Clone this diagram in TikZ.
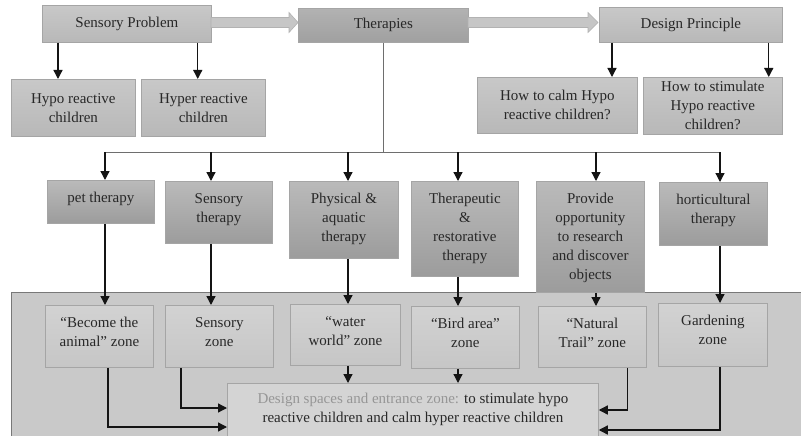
\documentclass[tikz,border=0pt]{standalone}
\usepackage{fontspec}
\setmainfont{Liberation Serif}
\usetikzlibrary{arrows.meta}

\tikzset{every picture/.style={line width=0.75pt}}
\tikzset{
	box/.style={anchor=north west, inner sep=0pt, draw={rgb, 255:red, 165; green, 165; blue, 165 }, text={rgb, 255:red, 40; green, 40; blue, 40 }, font=\fontsize{15}{19}\selectfont},
	topbox/.style={box, align=center, top color={rgb, 255:red, 200; green, 200; blue, 200 }, bottom color={rgb, 255:red, 184; green, 184; blue, 184 }},
	thbox/.style={box, top color={rgb, 255:red, 186; green, 186; blue, 186 }, bottom color={rgb, 255:red, 156; green, 156; blue, 156 }},
	zonebox/.style={box, top color={rgb, 255:red, 210; green, 210; blue, 210 }, bottom color={rgb, 255:red, 198; green, 198; blue, 198 }},
	arr/.style={-{Triangle[length=9pt,width=9pt]}, line width=1.3pt, color={rgb, 255:red, 20; green, 20; blue, 20 }},
	bus/.style={line width=0.9pt, color={rgb, 255:red, 110; green, 110; blue, 110 }},
	bigarrow/.style={fill={rgb, 255:red, 198; green, 198; blue, 198 }, draw={rgb, 255:red, 178; green, 178; blue, 178 }, line width=0.6pt}
}
% text set from the top of a box
\newcommand{\toptxt}[3]{\parbox[c][#2pt][t]{#1pt}{\centering\rule{0pt}{22pt}#3}}

\begin{document}
\begin{tikzpicture}[x=1pt,y=-1pt]
	\clip (0,0) rectangle (801,436);
	\fill[white] (0,0) rectangle (801,436);
	
	%Background of the zones
	\draw [fill={rgb, 255:red, 201; green, 201; blue, 201 }, draw={rgb, 255:red, 120; green, 120; blue, 120 }] (11,292) rectangle (806,442);
	
	% Top row
	\node[topbox, minimum width=169pt, minimum height=37pt] (sprob) at (42,5) {Sensory Problem};
	\node[topbox, top color={rgb, 255:red, 178; green, 178; blue, 178 }, bottom color={rgb, 255:red, 160; green, 160; blue, 160 }, minimum width=170pt, minimum height=34pt] (ther) at (298,8) {Therapies};
	\node[topbox, minimum width=183pt, minimum height=35pt] (dprin) at (599,7) {Design Principle};
	
	\node[topbox, minimum width=124pt, minimum height=57pt] (hypo) at (11,79) {Hypo reactive\\children};
	\node[topbox, minimum width=124pt, minimum height=57pt] (hyper) at (141,79) {Hyper reactive\\children};
	\node[topbox, minimum width=160pt, minimum height=56pt] (calm) at (477,77) {How to calm Hypo\\reactive children?};
	\node[topbox, minimum width=139pt, minimum height=57pt] (stim) at (643,77) {How to stimulate\\Hypo reactive\\children?};
	
	% Therapies
	\node[thbox] (pet) at (47,180) {\toptxt{107}{43}{pet therapy}};
	\node[thbox] (sens) at (165,181) {\toptxt{107}{62}{Sensory\\therapy}};
	\node[thbox] (phys) at (289,181) {\toptxt{109}{77}{Physical \&\\aquatic\\therapy}};
	\node[thbox] (rest) at (411,181) {\toptxt{107}{95}{Therapeutic\\\&\\restorative\\therapy}};
	\node[thbox] (prov) at (536,181) {\toptxt{108}{111}{Provide\\opportunity\\to research\\and discover\\objects}};
	\node[thbox] (hort) at (659,182) {\toptxt{108}{63}{horticultural\\therapy}};
	
	% Zones
	\node[zonebox] (zanim) at (45,305) {\toptxt{108}{62}{“Become the\\animal” zone}};
	\node[zonebox] (zsens) at (165,305) {\toptxt{108}{62}{Sensory\\zone}};
	\node[zonebox] (zwater) at (290,304) {\toptxt{110}{61}{“water\\world” zone}};
	\node[zonebox] (zbird) at (411,306) {\toptxt{108}{62}{“Bird area”\\zone}};
	\node[zonebox] (ztrail) at (538,306) {\toptxt{108}{61}{“Natural\\Trail” zone}};
	\node[zonebox] (zgard) at (658,303) {\toptxt{109}{63}{Gardening\\zone}};
	
	\node[box, fill={rgb, 255:red, 212; green, 212; blue, 212 }] (dspace) at (227,383) {\parbox[c][60pt][t]{371pt}{\centering\rule{0pt}{20pt}{\color[RGB]{150,150,150}Design spaces and entrance zone:} to stimulate hypo\\reactive children and calm hyper reactive children}};
	
	%Big arrows
	\draw [bigarrow] (211,17.5) -- (289,17.5) -- (289,12.5) -- (298,22.5) -- (289,32.5) -- (289,27.5) -- (211,27.5) -- cycle ;
	\draw [bigarrow] (468,17.5) -- (588,17.5) -- (588,12.5) -- (598,22.5) -- (588,32.5) -- (588,27.5) -- (468,27.5) -- cycle ;
	
	%Columns
	\coordinate (c1) at (105,0);
	\coordinate (c2) at (211,0);
	\coordinate (c3) at (348,0);
	\coordinate (c4) at (458,0);
	\coordinate (c5) at (596,0);
	\coordinate (c6) at (720,0);
	\coordinate (busl) at (105,152);
	\coordinate (busr) at (720,152);
	
	%Straight Lines
	\draw [arr] ([xshift=16pt]sprob.south west) -- ([xshift=16pt]sprob.south west |- hypo.north);
	\draw [arr] ([xshift=-14pt]sprob.south east) -- ([xshift=-14pt]sprob.south east |- hyper.north);
	\draw [arr] ([xshift=13pt]dprin.south west) -- ([xshift=13pt]dprin.south west |- calm.north);
	\draw [arr] ([xshift=-14pt]dprin.south east) -- ([xshift=-14pt]dprin.south east |- stim.north);
	
	\draw [bus] (ther.south) -- (ther.south |- busl);
	\draw [bus] (busl) -- (busr);
	
	\draw [arr] (c1 |- busl) -- (c1 |- pet.north);
	\draw [arr] (c2 |- busl) -- (c2 |- sens.north);
	\draw [arr] (c3 |- busl) -- (c3 |- phys.north);
	\draw [arr] (c4 |- busl) -- (c4 |- rest.north);
	\draw [arr] (c5 |- busl) -- (c5 |- prov.north);
	\draw [arr] (c6 |- busl) -- (c6 |- hort.north);
	
	\draw [arr] (c1 |- pet.south) -- (c1 |- zanim.north);
	\draw [arr] (c2 |- sens.south) -- (c2 |- zsens.north);
	\draw [arr] (c3 |- phys.south) -- (c3 |- zwater.north);
	\draw [arr] (c4 |- rest.south) -- (c4 |- zbird.north);
	\draw [arr] (c5 |- prov.south) -- (c5 |- ztrail.north);
	\draw [arr] (c6 |- hort.south) -- (c6 |- zgard.north);
	
	\draw [arr] (c3 |- zwater.south) -- (c3 |- dspace.north);
	\draw [arr] (c4 |- zbird.south) -- (c4 |- dspace.north);
	\draw [arr] ([xshift=16pt]zsens.south west) |- ([yshift=-25pt]dspace.north west);
	\draw [arr] ([xshift=63pt]zanim.south west) |- ([yshift=-44pt]dspace.north west);
	\draw [arr] ([xshift=-19pt]ztrail.south east) |- ([yshift=-27pt]dspace.north east);
	\draw [arr] (c6 |- zgard.south) |- ([yshift=-47pt]dspace.north east);
	
\end{tikzpicture}
\end{document}
